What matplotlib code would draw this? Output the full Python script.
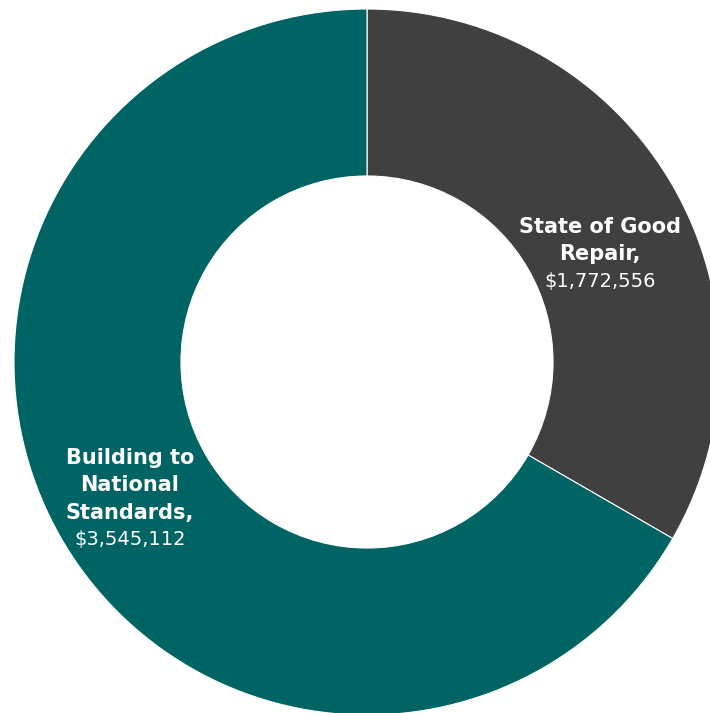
import numpy as np
import matplotlib.pyplot as plt

# data
categories = ['State of Good Repair', 'Building to National Standards']
label_lines = [['State of Good', 'Repair,'], ['Building to', 'National', 'Standards,']]
values = [1772556, 3545112]
colors = ['#404040', '#006464']

W, H = 710, 713
fig = plt.figure(figsize=(W / 100, H / 100), dpi=100)
ax = fig.add_axes([0, 0, 1, 1])

wedges, _ = ax.pie(values, colors=colors, startangle=90, counterclock=False,
                   radius=1.0, wedgeprops=dict(width=0.473, edgecolor='white', linewidth=0.8))

# donut geometry in pixels of the reference
cx, cy, R = 367, 362, 353
ax.set_xlim(-cx / R, (W - cx) / R)
ax.set_ylim(-(H - cy) / R, cy / R)
ax.set_aspect('equal')
ax.axis('off')

font = 'DejaVu Sans'
spacing = 19.5  # points between lines
nudges = [(-3, -21), (0, 0)]  # label shifts in points
for w, lines, v, (nx, ny) in zip(wedges, label_lines, values, nudges):
    ang = np.deg2rad((w.theta1 + w.theta2) / 2)
    r = 0.776
    x, y = r * np.cos(ang), r * np.sin(ang)
    allines = lines + [f'${v:,}']
    n = len(allines)
    for i, s in enumerate(allines):
        dy = ((n - 1) / 2 - i) * spacing + ny
        bold = i < len(lines)
        ax.annotate(s, (x, y), xytext=(nx, dy), textcoords='offset points',
                    ha='center', va='center', color='white',
                    fontsize=15 if bold else 14,
                    fontweight='bold' if bold else 'normal', family=font)

fig.savefig('out.png', dpi=100)
